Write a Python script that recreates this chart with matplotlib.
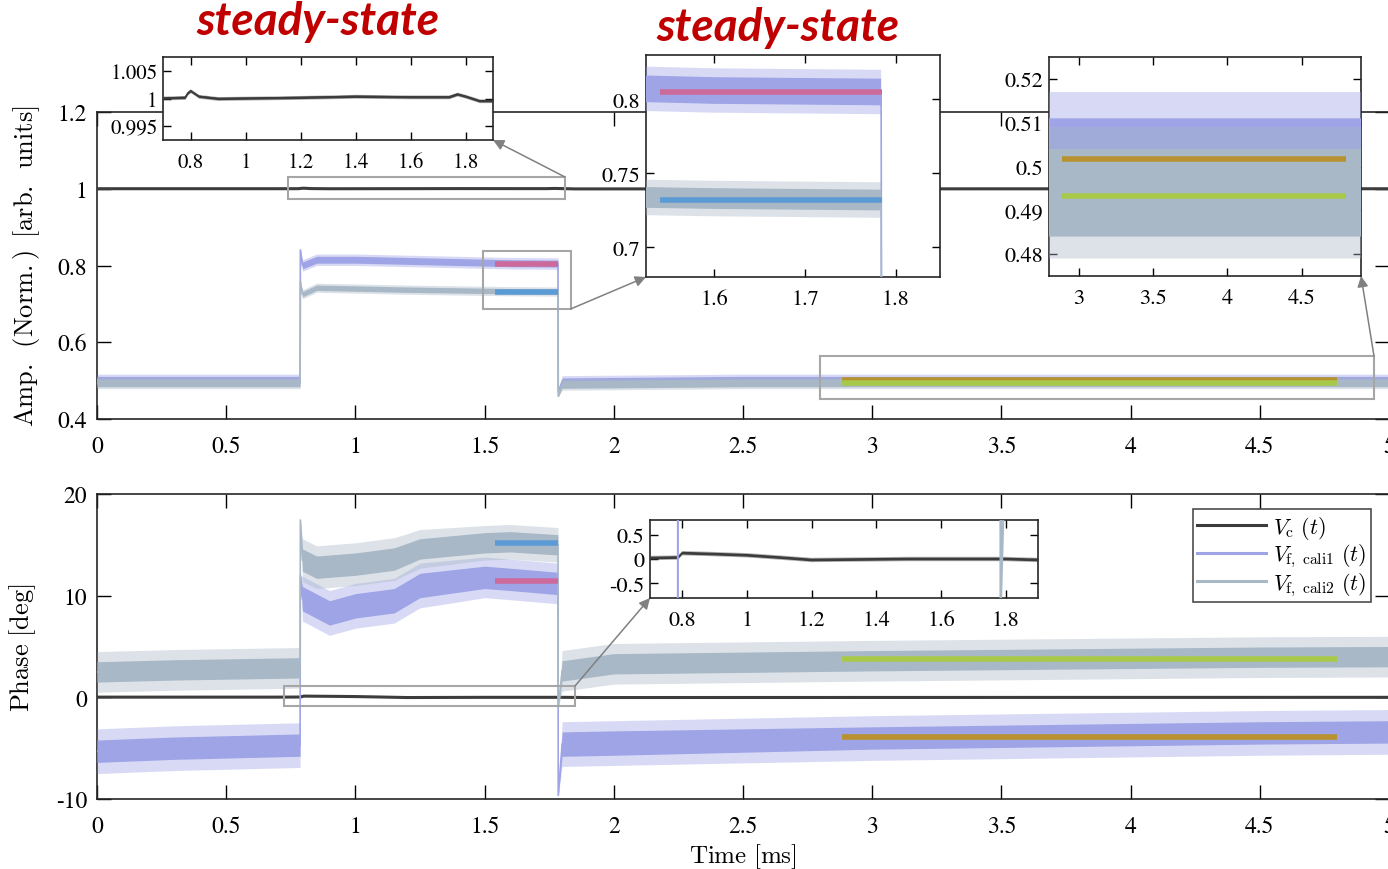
import numpy as np
import matplotlib
matplotlib.use("Agg")
import matplotlib.pyplot as plt
from matplotlib.patches import Rectangle, ConnectionPatch

plt.rcParams['font.family'] = ['STIXGeneral', 'DejaVu Serif']
plt.rcParams['mathtext.fontset'] = 'stix'

# ---------------- colours ----------------
C_VC = '#3c3c3c'
C_F1 = '#9ea4e6'
C_F2 = '#a8b8c6'
C_PINK = '#cc6a9c'
C_BLUE = '#5b9bd5'
C_OLIVE = '#b8922e'
C_GREEN = '#a8c84a'
C_BOX = '#a6a6a6'
C_ARROW = '#808080'
C_RED = '#c00000'

# ---------------- data ----------------
x_ticks = [0, 0.5, 1, 1.5, 2, 2.5, 3, 3.5, 4, 4.5, 5]
x_ticklabels = ['0', '0.5', '1', '1.5', '2', '2.5', '3', '3.5', '4', '4.5', '5']
amp_yticks = [0.4, 0.6, 0.8, 1.0, 1.2]
amp_yticklabels = ['0.4', '0.6', '0.8', '1', '1.2']
ph_yticks = [-10, 0, 10, 20]
ph_yticklabels = ['-10', '0', '10', '20']

# amplitude: V_c
amp_vc_t = [0.0, 0.70, 0.78, 0.79, 0.80, 0.83, 0.90, 1.20, 1.40, 1.60, 1.74, 1.77, 1.80, 1.85, 1.90, 5.0]
amp_vc_c = [1.0001, 1.0001, 1.0002, 1.0010, 1.0014, 1.0004, 1.0000, 1.0002, 1.0004, 1.0003,
            1.0003, 1.0008, 1.0004, 0.9996, 0.9996, 1.0000]
amp_vc_h = 0.00035

# amplitude: V_f,cali1 (time, centre, core half-width, spike half-width)
amp_t = [0.0, 0.786, 0.787, 0.795, 0.85, 1.0, 1.2, 1.4, 1.6, 1.784, 1.785, 1.80, 2.5, 5.0]
amp_f1_c = [0.502, 0.502, 0.842, 0.800, 0.815, 0.815, 0.812, 0.809, 0.806, 0.805, 0.470, 0.498, 0.502, 0.502]
amp_f1_hc = [0.009, 0.009, 0.0, 0.009, 0.009, 0.009, 0.009, 0.009, 0.009, 0.009, 0.0, 0.009, 0.009, 0.009]
amp_f1_ho = [0.015, 0.015, 0.0, 0.015, 0.015, 0.015, 0.015, 0.015, 0.015, 0.015, 0.0, 0.015, 0.015, 0.015]
# amplitude: V_f,cali2
amp_f2_c = [0.494, 0.494, 0.760, 0.725, 0.742, 0.740, 0.737, 0.735, 0.733, 0.732, 0.458, 0.490, 0.494, 0.494]
amp_f2_hc = [0.010, 0.010, 0.0, 0.007, 0.007, 0.007, 0.007, 0.007, 0.007, 0.007, 0.0, 0.010, 0.010, 0.010]
amp_f2_ho = [0.015, 0.015, 0.0, 0.012, 0.012, 0.012, 0.012, 0.012, 0.012, 0.012, 0.0, 0.015, 0.015, 0.015]

# phase: V_c
ph_vc_t = [0.0, 0.70, 0.787, 0.80, 0.90, 1.00, 1.10, 1.20, 1.50, 1.80, 1.90, 5.0]
ph_vc_c = [0.02, 0.02, 0.03, 0.12, 0.10, 0.076, 0.03, -0.02, 0.0, 0.0, -0.02, 0.0]
ph_vc_h = 0.045

# phase: V_f,cali1
ph_f1_t = [0.0, 0.3, 0.786, 0.787, 0.795, 0.9, 1.0, 1.15, 1.25, 1.5, 1.6, 1.784, 1.785, 1.80, 2.0, 3.0, 4.5, 5.0]
ph_f1_c = [-5.3, -5.0, -4.7, 12.0, 9.7, 8.3, 9.0, 9.5, 11.0, 11.8, 11.6, 11.2, -9.7, -4.6, -4.5, -4.0, -3.5, -3.4]
ph_f1_hc = [1.1, 1.1, 1.1, 0.0, 1.2, 1.2, 1.2, 1.2, 1.2, 1.1, 1.1, 1.1, 0.0, 1.2, 1.2, 1.1, 1.1, 1.1]
ph_f1_ho = [2.2, 2.2, 2.2, 0.0, 2.2, 2.2, 2.2, 2.2, 2.2, 2.0, 2.0, 2.0, 0.0, 2.2, 2.2, 2.2, 2.2, 2.2]
# phase: V_f,cali2
ph_f2_t = [0.0, 0.3, 0.786, 0.787, 0.795, 0.85, 1.0, 1.15, 1.25, 1.5, 1.6, 1.784, 1.785, 1.80, 2.0, 3.0, 4.5, 5.0]
ph_f2_c = [2.5, 2.7, 2.9, 17.5, 13.5, 12.8, 13.1, 13.6, 14.6, 15.2, 15.3, 15.0, -1.0, 2.6, 3.3, 3.6, 3.95, 4.0]
ph_f2_hc = [1.0, 1.0, 1.0, 0.0, 1.1, 1.1, 1.1, 1.1, 1.0, 1.0, 1.0, 1.0, 0.0, 1.0, 1.0, 1.0, 1.0, 1.0]
ph_f2_ho = [2.0, 2.0, 2.0, 0.0, 2.1, 2.1, 2.1, 2.1, 1.9, 1.7, 1.7, 1.7, 0.0, 2.0, 2.0, 2.0, 2.0, 2.0]

# steady-state mean lines
ss1_t = [1.54, 1.785]
ss2_t = [2.885, 4.80]
amp_ss_pink = 0.805
amp_ss_blue = 0.732
amp_ss_olive = 0.5018
amp_ss_green = 0.4933
ph_ss_pink = 11.4
ph_ss_blue = 15.2
ph_ss_olive = -3.86
ph_ss_green = 3.74

legend_labels = [r'$V_{\mathrm{c}}\ (t)$',
                 r'$V_{\mathrm{f,\ cali1}}\ (t)$',
                 r'$V_{\mathrm{f,\ cali2}}\ (t)$']
amp_ylabel = r'$\mathrm{Amp.\ \,(Norm.)\ \,[arb.\ \,units]}$'
ph_ylabel = r'$\mathrm{Phase\ [deg]}$'
time_xlabel = r'$\mathrm{Time\ [ms]}$'

# ---------------- helpers ----------------
W, H = 1388, 870


def fig_rect(x0, y0, x1, y1):
    return [x0 / W, 1 - y1 / H, (x1 - x0) / W, (y1 - y0) / H]


def trace(ax, t, c, hc, ho, color, z, lw=1.2):
    t = np.asarray(t); c = np.asarray(c)
    hc = np.broadcast_to(np.asarray(hc, float), c.shape)
    ho = np.broadcast_to(np.asarray(ho, float), c.shape)
    ax.fill_between(t, c - ho, c + ho, color=color, alpha=0.4, lw=0, zorder=z)
    ax.fill_between(t, c - hc, c + hc, color=color, lw=0, zorder=z)
    ax.plot(t, c, color=color, lw=lw, zorder=z, solid_joinstyle='miter')


def style(ax, ticklen=10, labelsize=17, lw=1.2, xpad=12, ypad=7):
    ax.tick_params(direction='in', top=True, right=True, length=ticklen, width=1.0,
                   labelsize=labelsize)
    ax.tick_params(axis='x', pad=xpad)
    ax.tick_params(axis='y', pad=ypad)
    for s in ax.spines.values():
        s.set_linewidth(lw)
        s.set_color('#262626')


fig = plt.figure(figsize=(W / 100, H / 100), dpi=100)

# ---------------- main amplitude axes ----------------
ax1 = fig.add_axes(fig_rect(97, 113, 1389, 420))
ax1.plot(amp_vc_t, amp_vc_c, color=C_VC, lw=2.2, zorder=3)
trace(ax1, amp_t, amp_f1_c, amp_f1_hc, amp_f1_ho, C_F1, 4)
trace(ax1, amp_t, amp_f2_c, amp_f2_hc, amp_f2_ho, C_F2, 5)
ax1.plot(ss1_t, [amp_ss_pink] * 2, color=C_PINK, lw=4, zorder=6, solid_capstyle='butt')
ax1.plot(ss1_t, [amp_ss_blue] * 2, color=C_BLUE, lw=4, zorder=6, solid_capstyle='butt')
ax1.plot(ss2_t, [amp_ss_olive] * 2, color=C_OLIVE, lw=4, zorder=6, solid_capstyle='butt')
ax1.plot(ss2_t, [amp_ss_green] * 2, color=C_GREEN, lw=4, zorder=6, solid_capstyle='butt')
ax1.set_xlim(0, 5)
ax1.set_ylim(0.4, 1.2)
ax1.set_xticks(x_ticks)
ax1.set_xticklabels(x_ticklabels)
ax1.set_yticks(amp_yticks)
ax1.set_yticklabels(amp_yticklabels)
style(ax1)
yl1 = ax1.set_ylabel(amp_ylabel, fontsize=19, labelpad=11)
yl1.set_math_fontfamily('cm')

# zoom rectangles (top)
r1 = (0.74, 0.972, 1.81, 1.031)
r2 = (1.494, 0.687, 1.834, 0.838)
r3 = (2.798, 0.452, 4.942, 0.564)
for (a, b, c, d) in (r1, r2, r3):
    ax1.add_patch(Rectangle((a, b), c - a, d - b, fill=False, ec=C_BOX, lw=1.5, zorder=8))

# ---------------- main phase axes ----------------
ax2 = fig.add_axes(fig_rect(97, 495, 1389, 800))
ax2.plot(ph_vc_t, ph_vc_c, color=C_VC, lw=2.2, zorder=3)
trace(ax2, ph_f1_t, ph_f1_c, ph_f1_hc, ph_f1_ho, C_F1, 4)
trace(ax2, ph_f2_t, ph_f2_c, ph_f2_hc, ph_f2_ho, C_F2, 5)
ax2.plot(ss1_t, [ph_ss_pink] * 2, color=C_PINK, lw=4, zorder=6, solid_capstyle='butt')
ax2.plot(ss1_t, [ph_ss_blue] * 2, color=C_BLUE, lw=4, zorder=6, solid_capstyle='butt')
ax2.plot(ss2_t, [ph_ss_olive] * 2, color=C_OLIVE, lw=4, zorder=6, solid_capstyle='butt')
ax2.plot(ss2_t, [ph_ss_green] * 2, color=C_GREEN, lw=4, zorder=6, solid_capstyle='butt')
ax2.set_xlim(0, 5)
ax2.set_ylim(-10, 20)
ax2.set_xticks(x_ticks)
ax2.set_xticklabels(x_ticklabels)
ax2.set_yticks(ph_yticks)
ax2.set_yticklabels(ph_yticklabels)
style(ax2)
yl2 = ax2.set_ylabel(ph_ylabel, fontsize=19, labelpad=13)
yl2.set_math_fontfamily('cm')
xl2 = ax2.set_xlabel(time_xlabel, fontsize=18, labelpad=3)
xl2.set_math_fontfamily('cm')
r4 = (0.724, -0.85, 1.85, 1.12)
ax2.add_patch(Rectangle((r4[0], r4[1]), r4[2] - r4[0], r4[3] - r4[1], fill=False, ec=C_BOX, lw=1.5, zorder=8))

h_vc, = ax2.plot([], [], color=C_VC, lw=2.2)
h_f1, = ax2.plot([], [], color=C_F1, lw=2.2)
h_f2, = ax2.plot([], [], color=C_F2, lw=2.2)
leg = ax2.legend([h_vc, h_f1, h_f2], legend_labels, loc='upper right',
                 bbox_to_anchor=(0.986, 0.95), fontsize=16, frameon=True, fancybox=False,
                 edgecolor='#202020', handlelength=3.1, borderpad=0.2, labelspacing=0.05,
                 handletextpad=0.3, borderaxespad=0)
leg.get_frame().set_linewidth(1.2)
for txt in leg.get_texts():
    txt.set_math_fontfamily('cm')
leg.set_zorder(20)

# ---------------- insets ----------------
# inset 1: V_c amplitude zoom
in1 = fig.add_axes(fig_rect(163, 58, 493, 141))
trace(in1, amp_vc_t, amp_vc_c, amp_vc_h * 0.6, amp_vc_h, C_VC, 3, lw=1.0)
in1.set_xlim(0.7, 1.9)
in1.set_ylim(0.9925, 1.0075)
in1.set_xticks([0.8, 1.0, 1.2, 1.4, 1.6, 1.8])
in1.set_xticklabels(['0.8', '1', '1.2', '1.4', '1.6', '1.8'])
in1.set_yticks([0.995, 1.0, 1.005])
in1.set_yticklabels(['0.995', '1', '1.005'])
style(in1, ticklen=6, labelsize=15, xpad=9, ypad=4)

# inset 2: steady-state window 1 (amplitude)
in2 = fig.add_axes(fig_rect(646, 56, 940, 278))
trace(in2, amp_t, amp_f1_c, amp_f1_hc, amp_f1_ho, C_F1, 4)
trace(in2, amp_t, amp_f2_c, amp_f2_hc, amp_f2_ho, C_F2, 5)
in2.plot(ss1_t, [amp_ss_pink] * 2, color=C_PINK, lw=4, zorder=6, solid_capstyle='butt')
in2.plot(ss1_t, [amp_ss_blue] * 2, color=C_BLUE, lw=4, zorder=6, solid_capstyle='butt')
in2.set_xlim(1.5245, 1.849)
in2.set_ylim(0.68, 0.83)
in2.set_xticks([1.6, 1.7, 1.8])
in2.set_xticklabels(['1.6', '1.7', '1.8'])
in2.set_yticks([0.7, 0.75, 0.8])
in2.set_yticklabels(['0.7', '0.75', '0.8'])
style(in2, ticklen=6, labelsize=16, xpad=9, ypad=4)

# inset 3: steady-state window 2 (amplitude)
in3 = fig.add_axes(fig_rect(1049, 58, 1361, 277))
trace(in3, amp_t, amp_f1_c, amp_f1_hc, amp_f1_ho, C_F1, 4)
trace(in3, amp_t, amp_f2_c, amp_f2_hc, amp_f2_ho, C_F2, 5)
in3.plot(ss2_t, [amp_ss_olive] * 2, color=C_OLIVE, lw=4, zorder=6, solid_capstyle='butt')
in3.plot(ss2_t, [amp_ss_green] * 2, color=C_GREEN, lw=4, zorder=6, solid_capstyle='butt')
in3.set_xlim(2.80, 4.90)
in3.set_ylim(0.475, 0.525)
in3.set_xticks([3, 3.5, 4, 4.5])
in3.set_xticklabels(['3', '3.5', '4', '4.5'])
in3.set_yticks([0.48, 0.49, 0.5, 0.51, 0.52])
in3.set_yticklabels(['0.48', '0.49', '0.5', '0.51', '0.52'])
style(in3, ticklen=6, labelsize=16, xpad=9, ypad=4)

# inset 4: V_c phase zoom
in4 = fig.add_axes(fig_rect(650, 521, 1038, 599))
trace(in4, ph_vc_t, ph_vc_c, ph_vc_h * 0.6, ph_vc_h, C_VC, 3, lw=1.0)
in4.plot(ph_f1_t, ph_f1_c, color=C_F1, lw=1.5, zorder=4)
in4.plot(ph_f2_t, ph_f2_c, color=C_F2, lw=1.5, zorder=5)
in4.set_xlim(0.7, 1.9)
in4.set_ylim(-0.8, 0.8)
in4.set_xticks([0.8, 1.0, 1.2, 1.4, 1.6, 1.8])
in4.set_xticklabels(['0.8', '1', '1.2', '1.4', '1.6', '1.8'])
in4.set_yticks([-0.5, 0, 0.5])
in4.set_yticklabels(['-0.5', '0', '0.5'])
style(in4, ticklen=6, labelsize=16, xpad=9, ypad=4)

for ax in (in1, in2, in3, in4):
    ax.set_zorder(10)
    ax.set_facecolor('white')

# ---------------- connectors ----------------
conns = [
    (ax1, (r1[2], r1[3]), in1, (1, 0)),
    (ax1, (r2[2], r2[1]), in2, (0, 0)),
    (ax1, (r3[2], r3[3]), in3, (1, 0)),
    (ax2, (r4[2], r4[3]), in4, (0, 0)),
]
for axA, xyA, axB, xyB in conns:
    cp = ConnectionPatch(xyA=xyA, coordsA='data', axesA=axA,
                         xyB=xyB, coordsB='axes fraction', axesB=axB,
                         arrowstyle='-|>', mutation_scale=16, color=C_ARROW, lw=1.1,
                         zorder=15)
    fig.add_artist(cp)

# ---------------- headings ----------------
for xc, yc in ((318, 22), (778, 28)):
    fig.text(xc / W, 1 - yc / H, 'steady-state', ha='center', va='center',
             fontsize=33, color=C_RED, fontweight='bold', fontstyle='italic',
             family=['Lato', 'Open Sans', 'DejaVu Sans'])

fig.savefig('out.png', dpi=100)
